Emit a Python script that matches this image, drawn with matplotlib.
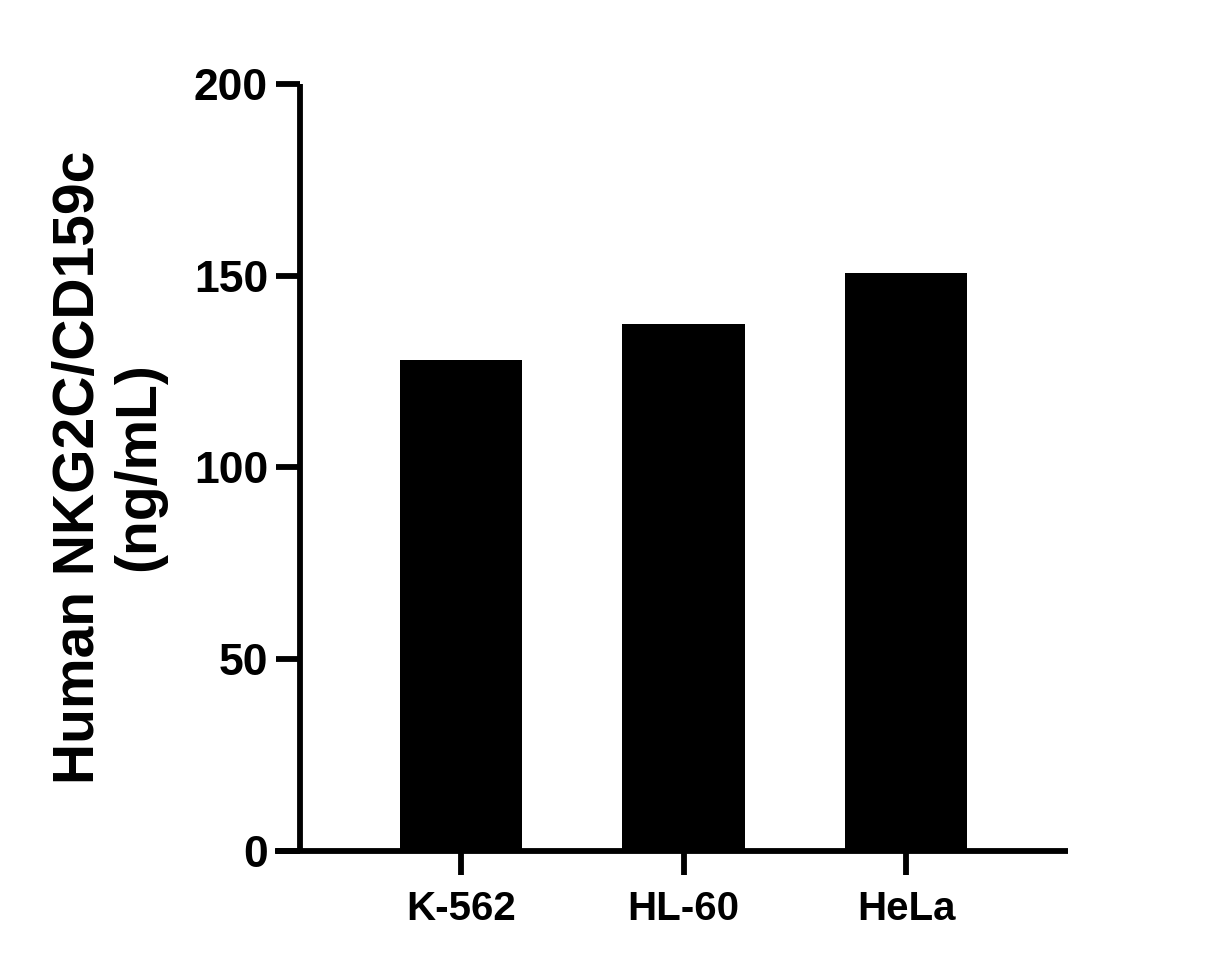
import matplotlib
matplotlib.use("Agg")
from matplotlib import pyplot as plt

categories = ["K-562", "HL-60", "HeLa"]
values = [128, 137.5, 150.7]
y_ticks = [0, 50, 100, 150, 200]

plt.rcParams["font.family"] = ["Liberation Sans", "DejaVu Sans"]
plt.rcParams["font.weight"] = "bold"

fig = plt.figure(figsize=(12.06, 9.68), dpi=100)
ax = fig.add_axes([0.2488, 0.1209, 0.6368, 0.7923])

x = list(range(len(categories)))
ax.bar(x, values, width=0.55, color="black")

ax.set_xlim(-0.724, 2.728)
ax.set_ylim(0, 200)
ax.set_xticks(x)
ax.set_xticklabels(categories, fontsize=29, fontweight="bold")
ax.set_yticks(y_ticks)
ax.set_yticklabels([str(v) for v in y_ticks], fontsize=32, fontweight="bold")

for side in ("top", "right"):
    ax.spines[side].set_visible(False)
for side in ("left", "bottom"):
    ax.spines[side].set_linewidth(4.2)
    ax.spines[side].set_capstyle("butt")
# x axis line runs a bit past the y axis, as in the original
ax.spines["bottom"].set_bounds(-0.836, 2.728)

ax.tick_params(axis="both", direction="out", length=17, width=4.2, color="black")
ax.tick_params(axis="y", pad=6)
ax.tick_params(axis="x", pad=11)

fig.text(0.0905, 0.5176, "Human NKG2C/CD159c\n(ng/mL)", rotation=90,
         ha="center", va="center", fontsize=41, fontweight="bold",
         linespacing=1.15)

fig.savefig("out.png", dpi=100)
plt.close(fig)
